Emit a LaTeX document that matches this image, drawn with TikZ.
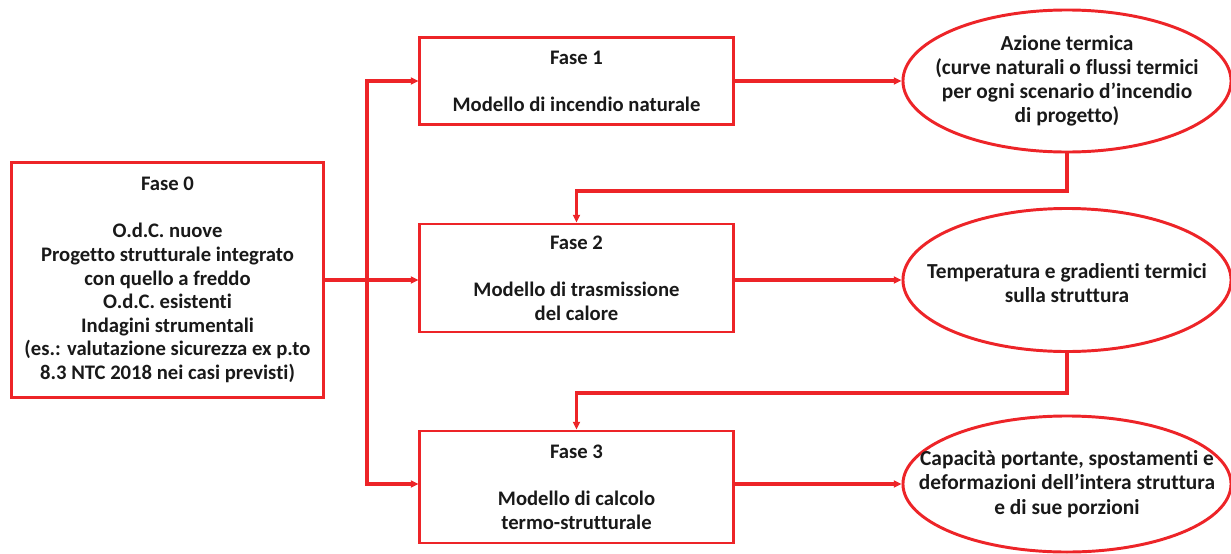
\documentclass[tikz,border=0pt]{standalone}
\usepackage{fontspec}
\setmainfont{Carlito}[Ligatures={NoCommon,NoContextual},RawFeature={-liga;-clig;-dlig}]
\usetikzlibrary{shapes.geometric,arrows.meta}
\definecolor{rd}{RGB}{237,36,40}
\begin{document}
\begin{tikzpicture}[x=0.025cm,y=-0.025cm,
  every node/.style={font=\bfseries\fontsize{14.7}{16.8}\selectfont, text=black!90},
  box/.style={draw=rd, line width=2.1pt, rectangle, inner sep=0pt, align=center},
  ell/.style={draw=rd, line width=2.1pt, ellipse, inner sep=0pt},
  txt/.style={align=center, inner sep=0pt, font=\bfseries\fontsize{15.2}{17.2}\selectfont},
  conn/.style={draw=rd, line width=2.5pt, -{Triangle[length=5.5pt,width=5pt]}}]
\useasboundingbox (0,0) rectangle (1231,553);
\node[box, minimum width=7.775cm, minimum height=5.875cm] (f0) at (167.5,280) {Fase 0\\[16.7pt]O.d.C. nuove\\Progetto strutturale integrato\\con quello a freddo\\O.d.C. esistenti\\Indagini strumentali\\(es.: valutazione sicurezza ex p.to\\8.3 NTC 2018 nei casi previsti)};
\node[box, minimum width=7.825cm, minimum height=2.175cm] (f1) at (576.5,81) {Fase 1\\[16.7pt]Modello di incendio naturale};
\node[box, minimum width=7.825cm, minimum height=2.7cm] (f2) at (576.5,278) {Fase 2\\[16.7pt]Modello di trasmissione\\del calore};
\node[box, minimum width=7.825cm, minimum height=2.8cm] (f3) at (576.5,487) {Fase 3\\[16.7pt]Modello di calcolo\\termo-strutturale};
\node[ell, minimum width=8.2cm, minimum height=3.55cm] (e1) at (1067,81) {};
\node[txt] (t1) at (e1.center) {Azione termica\\(curve naturali o flussi termici\\per ogni scenario d’incendio\\di progetto)};
\node[ell, minimum width=8.2cm, minimum height=3.575cm] (e2) at (1067,280) {};
\node[txt] (t2) at ([yshift=-0.08cm]e2.center) {Temperatura e gradienti termici\\sulla struttura};
\node[ell, minimum width=8.2cm, minimum height=3.4cm] (e3) at (1067,484) {};
\node[txt] (t3) at (e3.center) {Capacità portante, spostamenti e\\deformazioni dell’intera struttura\\e di sue porzioni};
\coordinate (j) at (367,280);
\coordinate (c1) at (0,191);
\coordinate (c2) at (0,393);
\coordinate (r3) at (0,484);
\draw[conn] (f0.east) -- (f0.east -| f2.west);
\draw[conn] (j) |- (f1.west);
\draw[conn] (j) |- (f3.west |- r3);
\draw[conn] (f1.east) -- (e1.west);
\draw[conn] (f2.east |- e2.west) -- (e2.west);
\draw[conn] (f3.east |- e3.west) -- (e3.west);
\draw[conn] (e1.south) |- (f2.north |- c1) -- (f2.north);
\draw[conn] (e2.south) |- (f3.north |- c2) -- (f3.north);
\end{tikzpicture}
\end{document}
